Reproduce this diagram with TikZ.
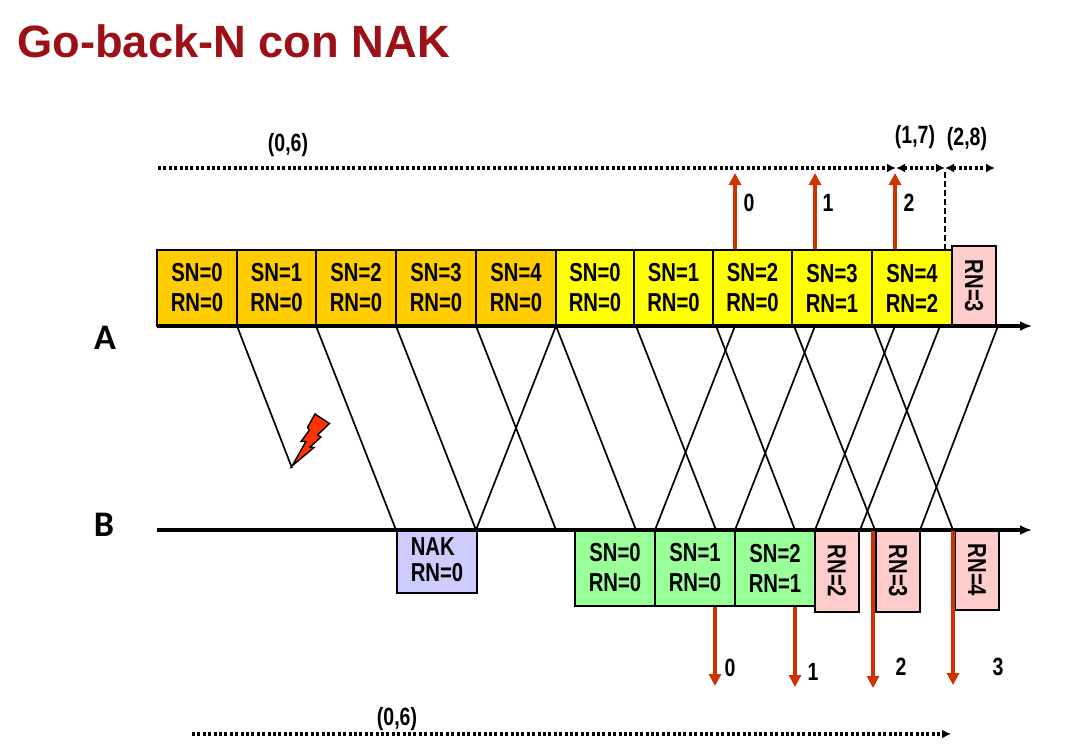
\documentclass[tikz,border=0pt]{standalone}
\usepackage{fontspec}
\usepackage{graphicx}
\setmainfont{Liberation Sans}
\newfontfamily\labfont{Carlito}
\usetikzlibrary{arrows.meta}
\definecolor{tit}{HTML}{9C1018}
\definecolor{oran}{HTML}{FFCC00}
\definecolor{yell}{HTML}{FFFF00}
\definecolor{gree}{HTML}{99FF99}
\definecolor{pink}{HTML}{FFCCCC}
\definecolor{lave}{HTML}{CCCCFF}
\definecolor{redar}{HTML}{CC3300}
\definecolor{bolt}{HTML}{FF3300}
\newcommand{\cnd}[1]{\scalebox{.78}[1]{#1}}
\tikzset{
 x=1pt,y=-1pt,
 pkt/.style={draw=black,line width=2pt,anchor=north west,inner sep=0pt,outer sep=0pt,align=center,
   minimum width=#1,font=\fontsize{26}{29}\selectfont\bfseries},
 pkt/.default=80pt,
 full/.style={pkt,minimum height=76pt},
 rn/.style={draw=black,line width=2pt,anchor=north west,inner sep=0pt,outer sep=0pt,fill=pink,minimum width=44pt},
 rntext/.style={rotate=-90,font=\fontsize{26}{29}\selectfont\bfseries,inner sep=0pt},
 tline/.style={line width=3.2pt,-{Latex[length=12pt,width=10pt]}},
 msg/.style={line width=1.7pt},
 redarrow/.style={draw=redar,line width=3.2pt,-{Triangle[length=12pt,width=12pt]}},
 dots/.style={line width=3.2pt,dash pattern=on 3pt off 2.4pt},
 dottip/.style={dots,-{Latex[length=9pt,width=9pt]}},
 dotboth/.style={dots,{Latex[length=9pt,width=9pt]}-{Latex[length=9pt,width=9pt]}},
 num/.style={font=\fontsize{25}{28}\selectfont\bfseries,inner sep=0pt},
}
\begin{document}
\begin{tikzpicture}
\path[use as bounding box] (0,0) rectangle (1067,753);
\node[anchor=west,inner sep=0pt,text=tit,font=\fontsize{45.3}{50}\selectfont\bfseries] (title) at (17,41) {Go-back-N con NAK};
% anchors on time lines
\foreach \n/\x in {s/157,e/1032} {\coordinate (A\n) at (\x,326); \coordinate (B\n) at (\x,530);}
\foreach \x in {237,316,396,476,556,636,716,735,794,815,874,895,940,998} \coordinate (A\x) at (\x,326);
\foreach \x in {396,476,556,636,655,716,735,795,815,860,875,920,953} \coordinate (B\x) at (\x,530);
\coordinate (lost) at (292,468);
% messages
\draw[msg] (A237) -- (lost);
\foreach \a/\b in {316/396,396/476,476/556,556/636,636/716,716/795,794/875,874/953,
                   556/476,735/655,815/735,895/815,940/860,998/920}
  \draw[msg] (A\a) -- (B\b);
% boxes A
\foreach \n/\x/\w/\s/\r/\c in {a0/157/80/0/0/oran,a1/237/79/1/0/oran,a2/316/80/2/0/oran,a3/396/80/3/0/oran,a4/476/80/4/0/oran,
   a5/556/78/0/0/yell,a6/634/79/1/0/yell,a7/713/79/2/0/yell,a8/792/80/3/1/yell,a9/872/80/4/2/yell}
  \node[full,minimum width=\w pt,fill=\c] (\n) at (\x,250) {\cnd{SN=\s}\\[1pt]\cnd{RN=\r}};
\node[rn,minimum height=80pt] (ar) at (952,246) {};
\node[rntext] (art) at (ar.center) {\cnd{RN=3}};
% boxes B
\node[pkt,fill=lave,minimum height=63pt,align=left,text depth=3pt] (nak) at (397,530) {\cnd{NAK}\\[-3pt]\cnd{RN=0}};
\foreach \n/\x/\s/\r in {b0/575/0/0,b1/655/1/0,b2/735/2/1}
  \node[full,fill=gree] (\n) at (\x,530) {\cnd{SN=\s}\\[1pt]\cnd{RN=\r}};
\foreach \n/\x/\h/\t in {r2/815/82/2,r3/876/82/3,r4/955/80/4} {
  \node[rn,minimum height=\h pt] (\n) at (\x,530) {};
  \node[rntext] (\n t) at (\n.center) {\cnd{RN=\t}};
}
% time lines
\draw[tline] (As) -- (Ae);
\draw[tline] (Bs) -- (Be);
\node[anchor=center,inner sep=0pt,font=\labfont\fontsize{36}{38}\selectfont\bfseries] (la) at (105,338) {A};
\node[anchor=center,inner sep=0pt,font=\labfont\fontsize{36}{38}\selectfont\bfseries] (lb) at (104,525) {B};
% top windows
\coordinate (w0) at (158,168); \coordinate (w1) at (896,168); \coordinate (w2) at (945,168); \coordinate (w3) at (995,168);
\draw[dottip] (w0) -- (w1);
\draw[dotboth] (w1) -- (w2);
\draw[dotboth] (w2) -- (w3);
\coordinate (d2) at (945,250);
\draw[line width=1.1pt,dash pattern=on 6pt off 3pt] (945,172) -- (d2);
\node[num] (t06) at (288,145) {\cnd{(0,6)}};
\node[num] (t17) at (915,137) {\cnd{(1,7)}};
\node[num] (t28) at (967,139) {\cnd{(2,8)}};
% red up
\foreach \x/\t/\lx in {735/0/749,815/1/828,895/2/909} {
  \coordinate (u\t) at (\x,249); \coordinate (v\t) at (\x,173);
  \draw[redarrow] (u\t) -- (v\t);
  \node[num] (nu\t) at (\lx,203) {\cnd{\t}};
}
% red down
\foreach \n/\x/\ya/\yb/\t/\lx/\ly in {0/715/607/686/0/730/668,1/795/607/687/1/813/672,2/873/531/688/2/901/667,3/953/531/685/3/998/667} {
  \coordinate (p\n) at (\x,\ya); \coordinate (q\n) at (\x,\yb);
  \draw[redarrow] (p\n) -- (q\n);
  \node[num] (nd\n) at (\lx,\ly) {\cnd{\t}};
}
% bottom window
\coordinate (w4) at (192,734); \coordinate (w5) at (951,734);
\draw[dottip] (w4) -- (w5);
\node[num] (b06) at (397,719) {\cnd{(0,6)}};
% bolt
\draw[fill=bolt,line width=1.4pt,line join=miter]
 (292,466) -- (306,441.5) -- (301,441.5) -- (309.5,430) -- (307.5,427.5) -- (315,414) -- (329.5,423.5)
 -- (317.5,435) -- (321,437) -- (310,447) -- (314,447.5) -- cycle;
\end{tikzpicture}
\end{document}
